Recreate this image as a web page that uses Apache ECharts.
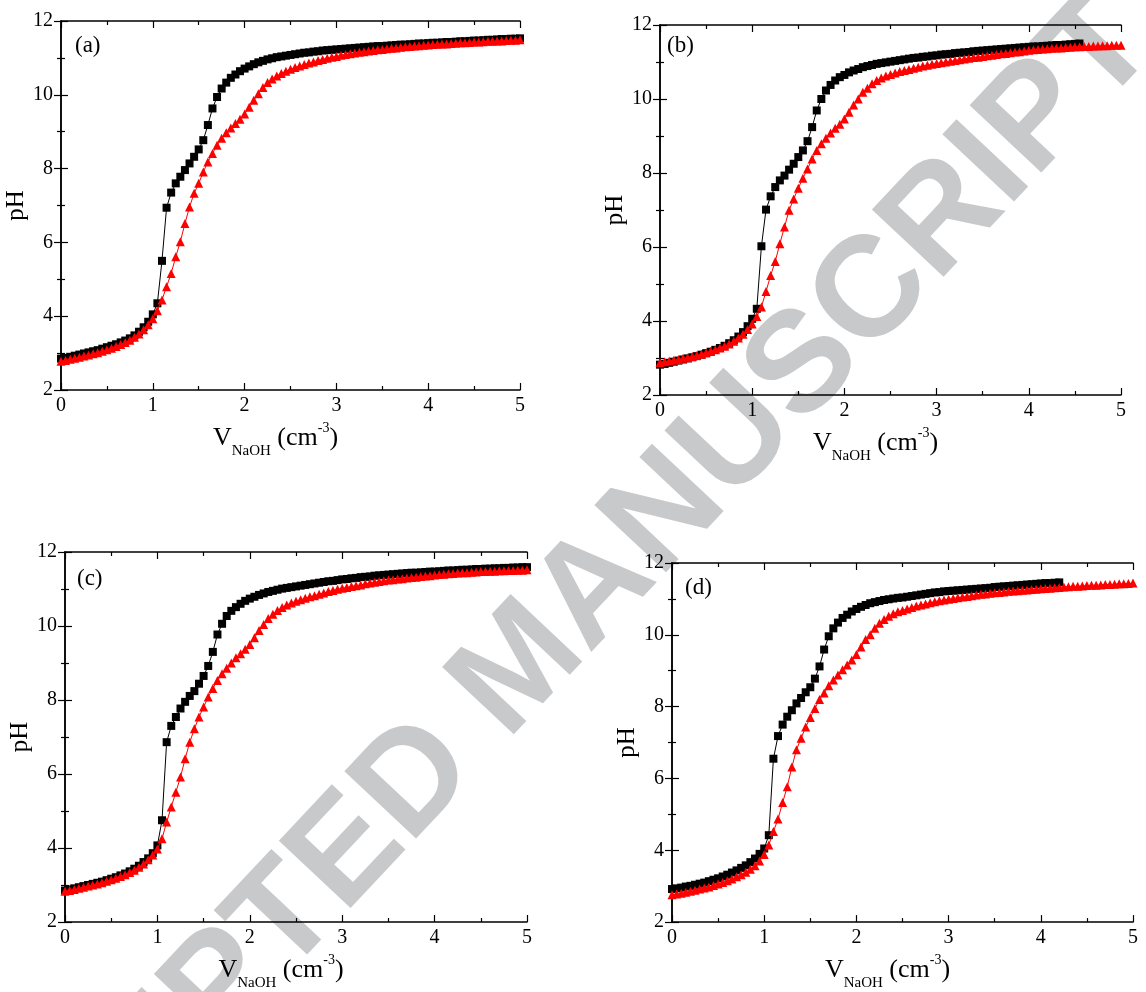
<!DOCTYPE html>
<html>
<head>
<meta charset="utf-8">
<script src="https://cdn.jsdelivr.net/npm/echarts@6/dist/echarts.min.js"></script>
<style>
  html, body { margin: 0; padding: 0; background: #fff; }
  #chart { width: 1146px; height: 992px; }
</style>
</head>
<body>
<div id="chart"></div>
<script>
// volume of NaOH added (cm-3), one reading every 0.05
var volume = [0, 0.05, 0.1, 0.15, 0.2, 0.25, 0.3, 0.35, 0.4, 0.45,
  0.5, 0.55, 0.6, 0.65, 0.7, 0.75, 0.8, 0.85, 0.9, 0.95,
  1.0, 1.05, 1.1, 1.15, 1.2, 1.25, 1.3, 1.35, 1.4, 1.45,
  1.5, 1.55, 1.6, 1.65, 1.7, 1.75, 1.8, 1.85, 1.9, 1.95,
  2.0, 2.05, 2.1, 2.15, 2.2, 2.25, 2.3, 2.35, 2.4, 2.45,
  2.5, 2.55, 2.6, 2.65, 2.7, 2.75, 2.8, 2.85, 2.9, 2.95,
  3.0, 3.05, 3.1, 3.15, 3.2, 3.25, 3.3, 3.35, 3.4, 3.45,
  3.5, 3.55, 3.6, 3.65, 3.7, 3.75, 3.8, 3.85, 3.9, 3.95,
  4.0, 4.05, 4.1, 4.15, 4.2, 4.25, 4.3, 4.35, 4.4, 4.45,
  4.5, 4.55, 4.6, 4.65, 4.7, 4.75, 4.8, 4.85, 4.9, 4.95, 5.0];

// pH readings, black squares
var blackA = [2.85, 2.87, 2.90, 2.93, 2.96, 2.99, 3.02, 3.05, 3.08, 3.12,
  3.16, 3.20, 3.24, 3.29, 3.34, 3.40, 3.48, 3.58, 3.70, 3.85,
  4.05, 4.35, 5.50, 6.94, 7.35, 7.60, 7.78, 7.96, 8.14, 8.32,
  8.52, 8.77, 9.18, 9.63, 9.94, 10.17, 10.33, 10.46, 10.55, 10.64,
  10.71, 10.77, 10.83, 10.88, 10.92, 10.96, 10.99, 11.02, 11.04, 11.06,
  11.08, 11.10, 11.12, 11.14, 11.15, 11.17, 11.18, 11.20, 11.21, 11.22,
  11.23, 11.24, 11.25, 11.26, 11.27, 11.28, 11.29, 11.30, 11.31, 11.32,
  11.32, 11.33, 11.34, 11.35, 11.36, 11.36, 11.37, 11.38, 11.39, 11.39,
  11.40, 11.41, 11.41, 11.42, 11.43, 11.43, 11.44, 11.45, 11.45, 11.46,
  11.47, 11.47, 11.48, 11.49, 11.49, 11.50, 11.51, 11.51, 11.52, 11.52, 11.53];
var blackB = [2.82, 2.84, 2.87, 2.90, 2.93, 2.96, 2.99, 3.02, 3.05, 3.09,
  3.13, 3.17, 3.22, 3.27, 3.33, 3.40, 3.48, 3.58, 3.70, 3.86,
  4.06, 4.33, 6.02, 7.01, 7.37, 7.62, 7.80, 7.93, 8.09, 8.25,
  8.43, 8.61, 8.86, 9.24, 9.69, 10.00, 10.23, 10.38, 10.50, 10.59,
  10.65, 10.72, 10.77, 10.81, 10.86, 10.89, 10.92, 10.95, 10.97, 10.99,
  11.01, 11.03, 11.05, 11.07, 11.09, 11.11, 11.12, 11.14, 11.15, 11.17,
  11.18, 11.20, 11.21, 11.22, 11.24, 11.25, 11.26, 11.27, 11.29, 11.30,
  11.31, 11.32, 11.33, 11.34, 11.35, 11.36, 11.37, 11.38, 11.39, 11.40,
  11.41, 11.42, 11.42, 11.43, 11.44, 11.45, 11.46, 11.46, 11.47, 11.48,
  11.49, 11.50];
var blackC = [2.85, 2.88, 2.91, 2.94, 2.97, 3.00, 3.03, 3.06, 3.09, 3.13,
  3.17, 3.21, 3.26, 3.31, 3.37, 3.44, 3.52, 3.62, 3.72, 3.86,
  4.07, 4.75, 6.86, 7.30, 7.54, 7.77, 7.95, 8.11, 8.24, 8.44,
  8.65, 8.92, 9.30, 9.77, 10.06, 10.27, 10.41, 10.51, 10.60, 10.68,
  10.74, 10.79, 10.84, 10.88, 10.92, 10.95, 10.98, 11.01, 11.03, 11.05,
  11.07, 11.09, 11.11, 11.13, 11.15, 11.17, 11.19, 11.21, 11.22, 11.24,
  11.26, 11.27, 11.29, 11.30, 11.32, 11.33, 11.34, 11.36, 11.37, 11.38,
  11.39, 11.40, 11.41, 11.42, 11.43, 11.44, 11.44, 11.45, 11.46, 11.47,
  11.47, 11.48, 11.49, 11.50, 11.50, 11.51, 11.52, 11.52, 11.53, 11.54,
  11.54, 11.55, 11.55, 11.56, 11.56, 11.57, 11.57, 11.58, 11.58, 11.59, 11.59];
var blackD = [2.92, 2.94, 2.96, 2.99, 3.01, 3.04, 3.07, 3.10, 3.14, 3.18,
  3.22, 3.27, 3.32, 3.38, 3.44, 3.51, 3.58, 3.67, 3.77, 3.90,
  4.05, 4.42, 6.55, 7.18, 7.50, 7.72, 7.90, 8.09, 8.24, 8.40,
  8.54, 8.78, 9.12, 9.59, 9.96, 10.18, 10.34, 10.47, 10.56, 10.65,
  10.72, 10.78, 10.83, 10.88, 10.91, 10.94, 10.97, 10.99, 11.01, 11.03,
  11.04, 11.06, 11.08, 11.10, 11.12, 11.14, 11.16, 11.18, 11.19, 11.21,
  11.22, 11.23, 11.24, 11.25, 11.26, 11.27, 11.28, 11.29, 11.30, 11.31,
  11.33, 11.34, 11.35, 11.36, 11.37, 11.38, 11.39, 11.40, 11.41, 11.42,
  11.43, 11.44, 11.44, 11.45, 11.46];

// pH readings, red triangles
var redA = [2.78, 2.80, 2.83, 2.86, 2.89, 2.92, 2.95, 2.98, 3.01, 3.05,
  3.09, 3.13, 3.18, 3.23, 3.29, 3.35, 3.43, 3.52, 3.63, 3.77,
  3.93, 4.15, 4.44, 4.80, 5.16, 5.61, 6.02, 6.51, 6.96, 7.33,
  7.60, 7.91, 8.18, 8.41, 8.63, 8.82, 8.97, 9.10, 9.22, 9.34,
  9.48, 9.66, 9.85, 10.03, 10.20, 10.33, 10.43, 10.51, 10.58, 10.64,
  10.69, 10.74, 10.78, 10.82, 10.86, 10.89, 10.93, 10.96, 10.99, 11.02,
  11.04, 11.07, 11.09, 11.11, 11.13, 11.15, 11.17, 11.19, 11.20, 11.22,
  11.23, 11.25, 11.26, 11.27, 11.29, 11.30, 11.31, 11.32, 11.33, 11.34,
  11.35, 11.36, 11.37, 11.38, 11.38, 11.39, 11.40, 11.41, 11.41, 11.42,
  11.43, 11.43, 11.44, 11.45, 11.45, 11.46, 11.46, 11.47, 11.48, 11.48, 11.49];
var redB = [2.88, 2.90, 2.92, 2.94, 2.96, 2.99, 3.01, 3.04, 3.07, 3.10,
  3.14, 3.18, 3.22, 3.27, 3.32, 3.38, 3.45, 3.54, 3.64, 3.77,
  3.92, 4.12, 4.38, 4.80, 5.23, 5.61, 6.09, 6.54, 6.99, 7.30,
  7.59, 7.86, 8.11, 8.38, 8.61, 8.79, 8.94, 9.08, 9.21, 9.32,
  9.46, 9.64, 9.84, 10.00, 10.18, 10.29, 10.41, 10.50, 10.57, 10.62,
  10.66, 10.70, 10.74, 10.77, 10.80, 10.83, 10.86, 10.89, 10.91, 10.94,
  10.96, 10.98, 11.00, 11.02, 11.04, 11.06, 11.08, 11.10, 11.12, 11.13,
  11.15, 11.17, 11.18, 11.20, 11.22, 11.23, 11.25, 11.27, 11.28, 11.30,
  11.32, 11.33, 11.34, 11.35, 11.36, 11.37, 11.38, 11.38, 11.39, 11.40,
  11.41, 11.41, 11.42, 11.42, 11.43, 11.43, 11.44, 11.44, 11.45, 11.45, 11.45];
var redC = [2.83, 2.85, 2.88, 2.91, 2.94, 2.97, 3.00, 3.03, 3.06, 3.10,
  3.14, 3.18, 3.23, 3.28, 3.34, 3.40, 3.48, 3.57, 3.68, 3.81,
  3.97, 4.25, 4.70, 5.11, 5.51, 5.92, 6.41, 6.86, 7.22, 7.54,
  7.81, 8.08, 8.31, 8.53, 8.71, 8.86, 9.00, 9.14, 9.25, 9.37,
  9.50, 9.68, 9.88, 10.04, 10.20, 10.32, 10.42, 10.50, 10.57, 10.62,
  10.67, 10.71, 10.75, 10.79, 10.82, 10.86, 10.89, 10.93, 10.96, 10.99,
  11.02, 11.04, 11.07, 11.09, 11.11, 11.14, 11.16, 11.18, 11.20, 11.22,
  11.24, 11.25, 11.27, 11.28, 11.30, 11.31, 11.32, 11.34, 11.35, 11.36,
  11.38, 11.39, 11.40, 11.41, 11.42, 11.43, 11.44, 11.44, 11.45, 11.46,
  11.47, 11.47, 11.48, 11.48, 11.49, 11.49, 11.50, 11.50, 11.51, 11.51, 11.52];
var redD = [2.76, 2.78, 2.80, 2.83, 2.86, 2.89, 2.92, 2.95, 2.98, 3.02,
  3.06, 3.10, 3.15, 3.20, 3.26, 3.32, 3.39, 3.47, 3.57, 3.70,
  3.88, 4.15, 4.52, 4.87, 5.33, 5.77, 6.32, 6.80, 7.12, 7.43,
  7.70, 7.95, 8.20, 8.38, 8.58, 8.74, 8.88, 9.03, 9.16, 9.30,
  9.45, 9.66, 9.87, 10.00, 10.18, 10.32, 10.43, 10.52, 10.59, 10.64,
  10.68, 10.72, 10.76, 10.80, 10.83, 10.86, 10.89, 10.92, 10.95, 10.97,
  10.99, 11.01, 11.03, 11.05, 11.07, 11.09, 11.11, 11.13, 11.14, 11.16,
  11.17, 11.18, 11.19, 11.21, 11.22, 11.23, 11.24, 11.25, 11.26, 11.27,
  11.28, 11.29, 11.30, 11.31, 11.32, 11.33, 11.34, 11.35, 11.35, 11.36,
  11.37, 11.38, 11.38, 11.39, 11.40, 11.40, 11.41, 11.42, 11.42, 11.43, 11.44];

var panelNames = ['(a)', '(b)', '(c)', '(d)'];
var blackSets = [blackA, blackB, blackC, blackD];
var redSets = [redA, redB, redC, redD];
var watermark = 'ACCEPTED MANUSCRIPT';

var serif = 'Liberation Serif';
var grids = [
    { left: 61, top: 21, width: 459, height: 369 },
    { left: 660, top: 25, width: 461, height: 370 },
    { left: 65, top: 552, width: 462, height: 370 },
    { left: 672, top: 563, width: 461, height: 370 }
];
// where the (a)..(d) labels sit inside each frame
var tagOffset = [[14, 13], [7, 9], [12, 15], [13, 13]];

function pairs(arr) {
    return arr.map(function (v, i) { return [volume[i], v]; });
}

var frameLine = { show: true, lineStyle: { color: '#000', width: 1.5 } };
var tick = { show: true, inside: true, length: 7, lineStyle: { color: '#000', width: 1.2 } };
var minor = { show: true, splitNumber: 2, length: 4, lineStyle: { color: '#000', width: 1.2 } };

var xAxes = [], yAxes = [], series = [], graphics = [];

grids.forEach(function (g, k) {
    xAxes.push({
        gridIndex: k, type: 'value', min: 0, max: 5, interval: 1, position: 'bottom',
        axisLine: frameLine, axisTick: tick, minorTick: minor,
        splitLine: { show: false },
        axisLabel: { color: '#000', fontFamily: serif, fontSize: 20, margin: 6 },
        name: '{v|V}{s|NaOH}{v| (cm}{p|-3}{v|)}',
        nameLocation: 'middle', nameGap: 12,
        nameTextStyle: {
            color: '#000', fontFamily: serif, padding: [0, 30, 0, 0],
            rich: {
                v: { fontSize: 26, fontFamily: serif, color: '#000', lineHeight: 42 },
                s: { fontSize: 15, fontFamily: serif, color: '#000', lineHeight: 42, verticalAlign: 'bottom' },
                p: { fontSize: 14, fontFamily: serif, color: '#000', lineHeight: 42, verticalAlign: 'top', padding: [4, 0, 0, 0] }
            }
        }
    });
    xAxes.push({
        gridIndex: k, type: 'value', min: 0, max: 5, interval: 1, position: 'top',
        axisLine: frameLine, axisTick: tick, minorTick: minor,
        splitLine: { show: false }, axisLabel: { show: false }
    });
    yAxes.push({
        gridIndex: k, type: 'value', min: 2, max: 12, interval: 2, position: 'left',
        axisLine: frameLine, axisTick: tick, minorTick: minor,
        splitLine: { show: false },
        axisLabel: { color: '#000', fontFamily: serif, fontSize: 20, margin: 8 },
        name: 'pH', nameLocation: 'middle', nameGap: 21,
        nameTextStyle: { color: '#000', fontFamily: serif, fontSize: 25 }
    });
    yAxes.push({
        gridIndex: k, type: 'value', min: 2, max: 12, interval: 2, position: 'right',
        axisLine: frameLine, axisTick: tick, minorTick: minor,
        splitLine: { show: false }, axisLabel: { show: false }
    });

    series.push({
        name: 'black ' + panelNames[k], type: 'line',
        xAxisIndex: k * 2, yAxisIndex: k * 2,
        data: pairs(blackSets[k]),
        symbol: 'rect', symbolSize: 8,
        itemStyle: { color: '#000' },
        lineStyle: { color: '#000', width: 1 },
        animation: false, z: 3
    });
    series.push({
        name: 'red ' + panelNames[k], type: 'line',
        xAxisIndex: k * 2, yAxisIndex: k * 2,
        data: pairs(redSets[k]),
        symbol: 'triangle', symbolSize: 9,
        itemStyle: { color: '#ff0000' },
        lineStyle: { color: '#ff0000', width: 1 },
        animation: false, z: 4
    });

    graphics.push({
        type: 'text',
        left: g.left + tagOffset[k][0], top: g.top + tagOffset[k][1],
        style: { text: panelNames[k], fontFamily: serif, fontSize: 23, fill: '#000' },
        z: 10
    });
});

// diagonal watermark behind everything
graphics.push({
    type: 'text',
    x: 522, y: 668,
    rotation: 46.8 * Math.PI / 180,
    style: {
        text: watermark,
        font: 'bold 143px "Liberation Sans"',
        fill: '#c8c9cb',
        align: 'center',
        verticalAlign: 'middle'
    },
    z: -10
});

var chart = echarts.init(document.getElementById('chart'));
chart.setOption({
    backgroundColor: '#fff',
    animation: false,
    grid: grids,
    xAxis: xAxes,
    yAxis: yAxes,
    series: series,
    graphic: { elements: graphics }
});
</script>
</body>
</html>
